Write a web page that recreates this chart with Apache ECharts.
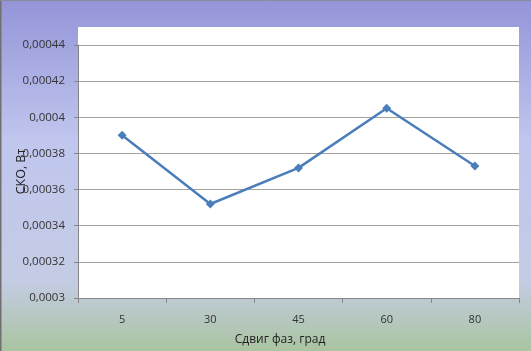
<!DOCTYPE html>
<html>
<head>
<meta charset="utf-8">
<script src="https://cdn.jsdelivr.net/npm/echarts@6/dist/echarts.min.js"></script>
<style>
  html, body { margin: 0; padding: 0; }
  #main { width: 531px; height: 351px; }
</style>
</head>
<body>
<div id="main"></div>
<script>
// данные графика
const shifts = ['5', '30', '45', '60', '80'];
const sko = [0.000390, 0.000352, 0.000372, 0.000405, 0.000373];
const yMin = 0.0003, yMax = 0.00044, yStep = 0.00002;

const gridL = 78, gridR = 12, gridT = 45, gridB = 53;

const myChart = echarts.init(document.getElementById('main'));

function fmt(v) {
  let s = v.toFixed(5).replace(/0+$/, '');
  return s.replace('.', ',');
}

myChart.setOption({
  animation: false,
  backgroundColor: {
    type: 'linear', x: 0, y: 0, x2: 0, y2: 1,
    colorStops: [
      { offset: 0, color: '#9494d8' },
      { offset: 0.4, color: '#c0c6ee' },
      { offset: 0.8, color: '#c4cce4' },
      { offset: 1, color: '#aac4a0' }
    ]
  },
  graphic: [
    // белая область построения над верхней линией сетки
    { type: 'rect', z: -1, shape: { x: gridL, y: 27, width: 531 - gridL - gridR, height: gridT - 27 + 2 }, style: { fill: '#fff' } },
    { type: 'line', shape: { x1: 0.5, y1: 0, x2: 0.5, y2: 351 }, style: { stroke: '#707070', lineWidth: 2 } },
    { type: 'line', shape: { x1: 0, y1: 0.5, x2: 531, y2: 0.5 }, style: { stroke: '#8a8a9a', lineWidth: 1 } }
  ],
  grid: {
    left: gridL, right: gridR, top: gridT, bottom: gridB,
    outerBoundsMode: 'none',
    show: true, backgroundColor: '#fff', borderWidth: 0
  },
  xAxis: {
    type: 'category',
    data: shifts,
    name: 'Сдвиг фаз, град',
    nameLocation: 'middle',
    nameGap: 36,
    nameMoveOverlap: false,
    nameTextStyle: { fontFamily: 'Open Sans', fontSize: 12, color: '#222', padding: [0, 37, 0, 0] },
    axisLine: { lineStyle: { color: '#868686' } },
    axisTick: { show: true, length: 5, lineStyle: { color: '#868686' } },
    axisLabel: { fontFamily: 'Open Sans', fontSize: 11, color: '#333', margin: 16 },
    splitLine: { show: false }
  },
  yAxis: {
    type: 'value',
    min: yMin, max: yMax, interval: yStep,
    name: 'СКО, Вт',
    nameLocation: 'middle',
    nameGap: 50,
    nameRotate: 90,
    nameMoveOverlap: false,
    nameTextStyle: { fontFamily: 'Open Sans', fontSize: 12.5, color: '#222' },
    axisLine: { show: true, lineStyle: { color: '#868686' } },
    axisTick: { show: true, length: 4, lineStyle: { color: '#868686' } },
    axisLabel: { fontFamily: 'Open Sans', fontSize: 11.5, color: '#333', margin: 13, formatter: fmt },
    splitLine: { lineStyle: { color: '#a2a29a', width: 1 } }
  },
  series: [{
    type: 'line',
    data: sko,
    symbol: 'diamond',
    symbolSize: 9,
    lineStyle: { color: '#4a7ebb', width: 2.5 },
    itemStyle: { color: '#4a7ebb' }
  }]
});
</script>
</body>
</html>
